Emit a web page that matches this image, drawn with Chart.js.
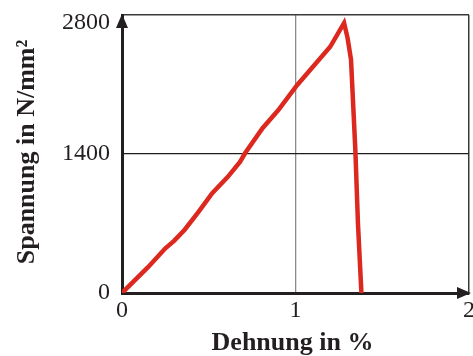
<!DOCTYPE html>
<html>
<head>
<meta charset="utf-8">
<script src="https://cdn.jsdelivr.net/npm/chart.js@4"></script>
<style>
  html, body { margin: 0; padding: 0; background: #fff; }
  #wrap { width: 473px; height: 356px; }
</style>
</head>
<body>
<div id="wrap"><canvas id="c" width="473" height="356"></canvas></div>
<script>
// Stress-strain curve: strain in %, stress in N/mm²
const strain = [0, 0.15, 0.25, 0.30, 0.36, 0.44, 0.52, 0.61, 0.68, 0.71, 0.81, 0.90, 1.01, 1.20, 1.28, 1.30, 1.32, 1.345, 1.36, 1.38];
const stress = [0, 260, 450, 525, 635, 815, 1005, 1170, 1320, 1410, 1660, 1840, 2095, 2480, 2720, 2570, 2350, 1440, 700, 0];

const xTicks = [0, 1, 2];
const yTicks = [0, 1400, 2800];
const xTitle = 'Dehnung in %';
const yTitle = 'Spannung in N/mm²';

const INK = '#231f20';
const SERIF = '"Liberation Serif", "Times New Roman", serif';

const points = strain.map((x, i) => ({ x: x, y: stress[i] }));

// Tick labels, axis titles and arrow heads
const decorations = {
  id: 'decorations',
  afterDraw(chart) {
    const { ctx, chartArea: a, scales } = chart;
    const xs = scales.x, ys = scales.y;
    ctx.save();
    ctx.fillStyle = INK;

    // arrow heads at the ends of both axes
    ctx.beginPath();
    ctx.moveTo(a.left, a.top - 1);
    ctx.lineTo(a.left - 6, a.top + 13);
    ctx.lineTo(a.left + 6, a.top + 13);
    ctx.closePath();
    ctx.fill();
    ctx.beginPath();
    ctx.moveTo(a.right + 2, a.bottom);
    ctx.lineTo(a.right - 12, a.bottom - 6);
    ctx.lineTo(a.right - 12, a.bottom + 6);
    ctx.closePath();
    ctx.fill();

    // y tick labels (kept inside the plot height)
    ctx.font = '24px ' + SERIF;
    ctx.textAlign = 'right';
    ctx.textBaseline = 'middle';
    yTicks.forEach(v => {
      const py = Math.max(ys.getPixelForValue(v), a.top + 8);
      ctx.fillText(String(v), a.left - 12, py);
    });

    // x tick labels
    ctx.textAlign = 'center';
    xTicks.forEach(v => {
      ctx.fillText(String(v), xs.getPixelForValue(v), a.bottom + 18);
    });

    // axis titles
    ctx.font = 'bold 26px ' + SERIF;
    ctx.fillText(xTitle, (a.left + a.right) / 2 - 3, a.bottom + 50);
    ctx.save();
    ctx.translate(27, (a.top + a.bottom) / 2 - 2);
    ctx.rotate(-Math.PI / 2);
    ctx.fillText(yTitle, 0, 0);
    ctx.restore();

    ctx.restore();
  }
};

new Chart(document.getElementById('c'), {
  type: 'scatter',
  data: {
    datasets: [{
      data: points,
      showLine: true,
      borderColor: '#dc281e',
      borderWidth: 4.5,
      pointRadius: 0,
      tension: 0,
      fill: false
    }]
  },
  options: {
    responsive: false,
    animation: false,
    devicePixelRatio: 1,
    layout: { padding: { left: 122, right: 4, top: 15, bottom: 63 } },
    plugins: { legend: { display: false }, tooltip: { enabled: false } },
    scales: {
      x: {
        type: 'linear',
        min: 0, max: 2,
        afterBuildTicks: s => { s.ticks = xTicks.map(v => ({ value: v })); },
        ticks: { display: false },
        grid: {
          drawTicks: false,
          color: c => c.tick && c.tick.value === 1 ? '#8a8a8a' : (c.tick && c.tick.value === 2 ? '#3a3a3a' : 'rgba(0,0,0,0)'),
          lineWidth: c => c.tick && c.tick.value === 2 ? 1.5 : 1.3
        },
        border: { display: true, color: INK, width: 3 }
      },
      y: {
        min: 0, max: 2800,
        afterBuildTicks: s => { s.ticks = yTicks.map(v => ({ value: v })); },
        ticks: { display: false },
        grid: {
          drawTicks: false,
          color: c => c.tick && c.tick.value === 1400 ? '#1e1e1e' : (c.tick && c.tick.value === 2800 ? '#3a3a3a' : 'rgba(0,0,0,0)'),
          lineWidth: c => c.tick && c.tick.value === 2800 ? 1.5 : 1.2
        },
        border: { display: true, color: INK, width: 3 }
      }
    }
  },
  plugins: [decorations]
});
</script>
</body>
</html>
